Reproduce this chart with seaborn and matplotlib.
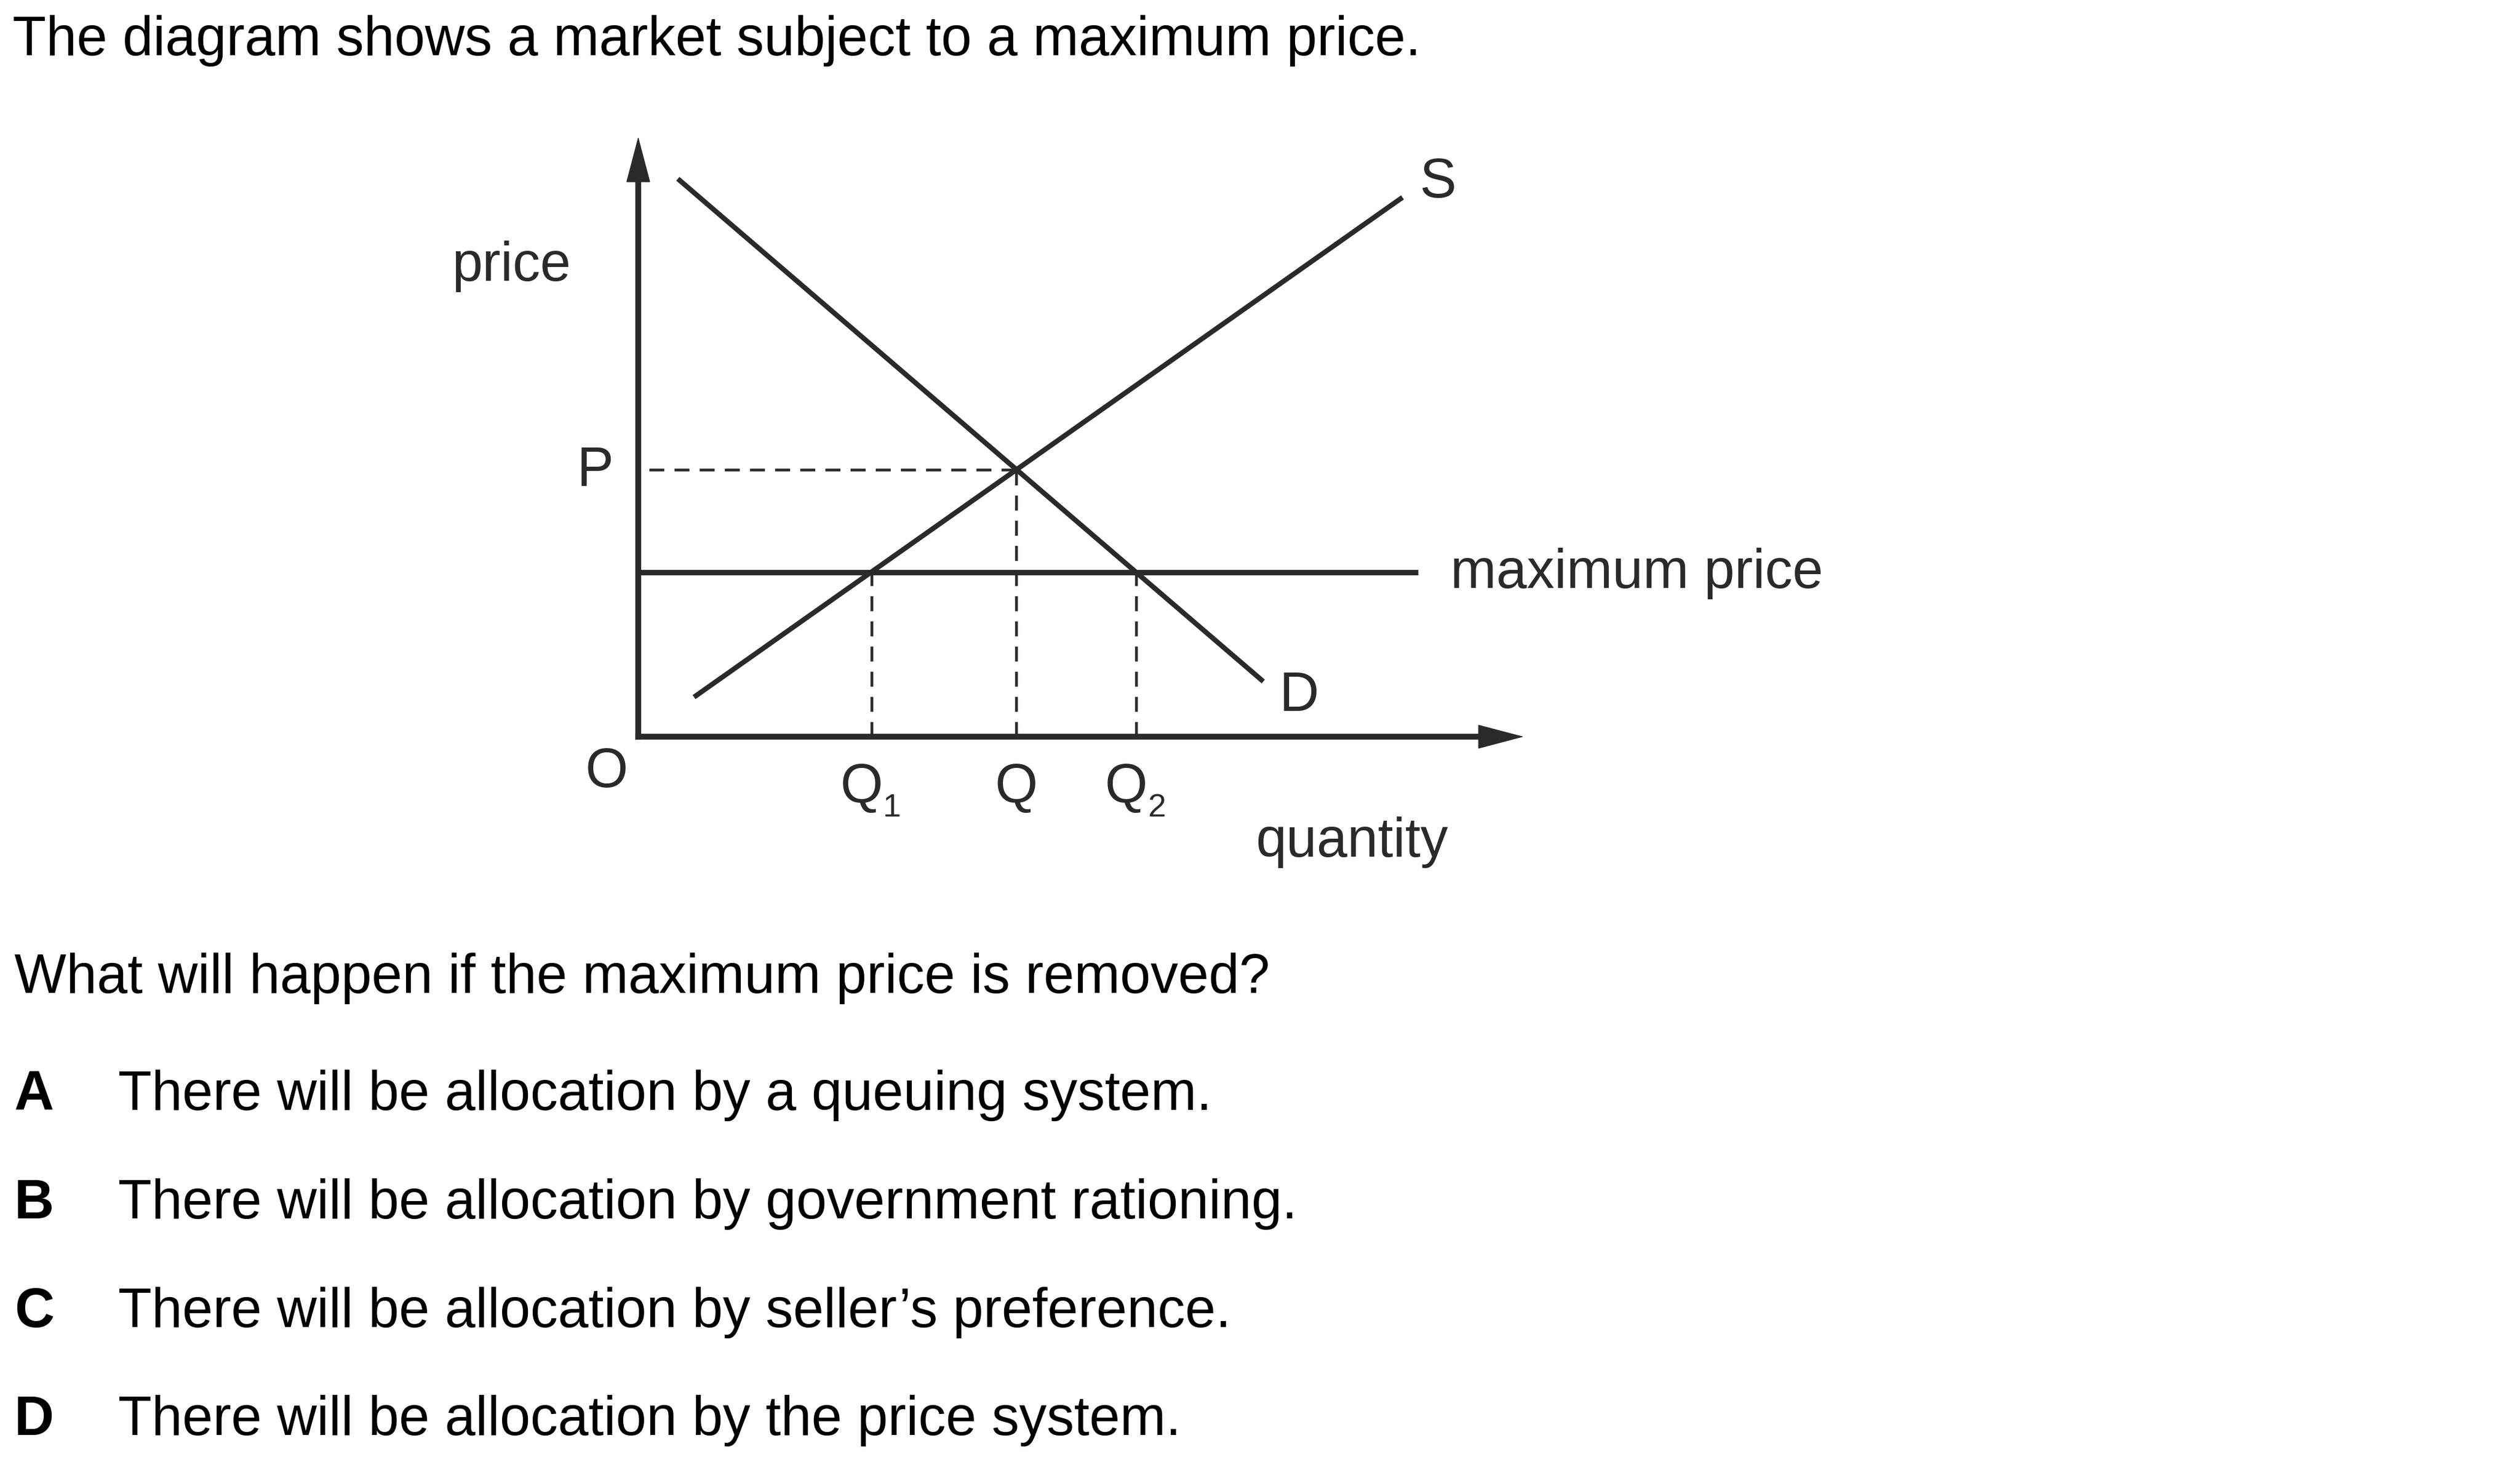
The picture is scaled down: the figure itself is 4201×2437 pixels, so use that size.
import numpy as np
import pandas as pd
import seaborn as sns
import matplotlib.pyplot as plt

# Diagram data (quantity, price) in diagram units
demand_q = [6.6, 104.2]
demand_p = [93.0, 9.2]
supply_q = [9.3, 127.4]
supply_p = [6.6, 89.9]
max_price = 27.45
max_price_end = 130.0
eq_q = 63.0
eq_p = 44.5
q_ticks = [38.9, 63.0, 83.0]
q_subs = ['1', '', '2']

title = 'The diagram shows a market subject to a maximum price.'
question = 'What will happen if the maximum price is removed?'
option_letters = ['A', 'B', 'C', 'D']
option_texts = ['There will be allocation by a queuing system.',
                'There will be allocation by government rationing.',
                'There will be allocation by seller\u2019s preference.',
                'There will be allocation by the price system.']

sns.set_theme(style='white')
plt.rcParams['font.family'] = ['Liberation Sans', 'DejaVu Sans']

W, H = 4201, 2437
fig = plt.figure(figsize=(W / 100, H / 100), dpi=100)
fig.patch.set_facecolor('white')
ink = '#2a2a2a'
fs = 66


def fx(x):
    return x / W


def fy(y):
    return 1 - y / H


# axes: origin at pixel (1064, 1228), 10 px per unit
ox, oy, unit = 1064, 1228, 10
x_tip, y_tip, head = 147.6, 100.0, 7.2
ax = fig.add_axes([fx(ox), fy(oy), (x_tip - head) * unit / W, (y_tip - head) * unit / H])
ax.set_xlim(0, x_tip - head)
ax.set_ylim(0, y_tip - head)
ax.patch.set_alpha(0)
ax.set_xticks([])
ax.set_yticks([])
for s in ['top', 'right']:
    ax.spines[s].set_visible(False)
for s in ['left', 'bottom']:
    ax.spines[s].set_linewidth(7)
    ax.spines[s].set_color(ink)
    ax.spines[s].set_capstyle('projecting')

# arrow heads
arrow_kw = dict(arrowstyle='-|>,head_length=5.2,head_width=1.37', mutation_scale=10,
                lw=1, color=ink, shrinkA=0, shrinkB=0)
ax.annotate('', xy=(x_tip, 0), xytext=(x_tip - head, 0), arrowprops=arrow_kw,
            annotation_clip=False)
ax.annotate('', xy=(0, y_tip), xytext=(0, y_tip - head), arrowprops=arrow_kw,
            annotation_clip=False)

# demand and supply
curves = pd.DataFrame({'quantity': demand_q + supply_q,
                       'price': demand_p + supply_p,
                       'curve': ['D', 'D', 'S', 'S']})
sns.lineplot(data=curves, x='quantity', y='price', hue='curve',
             palette={'D': ink, 'S': ink}, linewidth=6, legend=False,
             sort=False, ax=ax)
ax.set_xlabel('')
ax.set_ylabel('')

# maximum price line
ax.hlines(max_price, 0, max_price_end, color=ink, lw=6.5)

# dashed guides
dash = (0, (5.45, 3.7))
ax.hlines(eq_p, 1.8, eq_q, color=ink, lw=3.3, linestyles=[dash])
ax.vlines([q_ticks[0], q_ticks[2]], 0, max_price, color=ink, lw=3.3, linestyles=[dash])
ax.vlines(q_ticks[1], 0, eq_p, color=ink, lw=3.3, linestyles=[dash])

for ln in ax.lines + ax.collections:
    ln.set_clip_on(False)
for ln in ax.lines:
    ln.set_solid_capstyle('butt')

# diagram labels
lab = dict(color=ink, fontsize=fs, clip_on=False, va='baseline')
ax.text(-11.2, 76.0, 'price', ha='right', **lab)
ax.text(-7.2, 41.8, 'P', ha='center', **lab)
ax.text(-5.3, -8.4, 'O', ha='center', **lab)
for q, sub in zip(q_ticks, q_subs):
    if sub:
        ax.text(q - 1.7, -10.85, 'Q', ha='center', **lab)
        ax.text(q + 3.4, -13.3, sub, ha='center', color=ink, fontsize=39,
                clip_on=False, va='baseline')
    else:
        ax.text(q, -10.85, 'Q', ha='center', **lab)
ax.text(102.9, -20.0, 'quantity', ha='left', **lab)
ax.text(133.3, 89.9, 'S', ha='center', **lab)
ax.text(110.2, 4.3, 'D', ha='center', **lab)
ax.text(135.4, 24.8, 'maximum price', ha='left', **lab)

# question text
fig.text(fx(21), fy(92), title, fontsize=fs, color='black', va='baseline')
fig.text(fx(24), fy(1655), question, fontsize=fs, color='black', va='baseline')
opt_base = [1850, 2031, 2212, 2392]
for letter, txt, yb in zip(option_letters, option_texts, opt_base):
    fig.text(fx(24), fy(yb), letter, fontsize=fs, fontweight='bold', color='black', va='baseline')
    fig.text(fx(197), fy(yb), txt, fontsize=fs, color='black', va='baseline')

fig.savefig('out.png', dpi=100, facecolor='white')
